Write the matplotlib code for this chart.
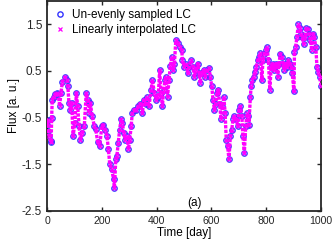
import matplotlib
matplotlib.use("Agg")
import matplotlib.pyplot as plt

# Un-evenly sampled light curve
t_obs = [0, 3, 5, 8, 13, 15, 17, 19, 24, 30, 35, 41, 46, 51, 56, 66, 73, 76, 80, 85,
         90, 95, 102, 107, 112, 117, 122, 129, 136, 143, 149, 153, 158, 165, 173, 178,
         185, 192, 200, 204, 212, 219, 224, 229, 236, 243, 246, 251, 255, 260, 265,
         270, 275, 280, 285, 292, 297, 302, 307, 311, 319, 326, 333, 341, 348, 353,
         360, 365, 372, 380, 384, 392, 399, 406, 411, 416, 421, 426, 431, 435, 440,
         445, 450, 455, 460, 465, 470, 477, 484, 492, 494, 501, 508, 514, 518, 526,
         533, 538, 543, 550, 555, 559, 564, 572, 577, 584, 591, 596, 601, 606, 611,
         616, 620, 625, 630, 635, 640, 645, 650, 654, 659, 664, 669, 674, 679, 683,
         691, 696, 701, 705, 711, 715, 720, 725, 730, 735, 737, 742, 745, 749, 754,
         759, 764, 769, 774, 778, 784, 788, 793, 798, 803, 808, 813, 818, 823, 827,
         832, 837, 842, 847, 851, 857, 861, 866, 871, 876, 881, 886, 891, 895, 901,
         903, 907, 912, 917, 922, 927, 932, 936, 942, 946, 951, 956, 961, 966, 971,
         975, 981, 985, 990, 995, 1000]
f_obs = [-0.65, -0.55, -0.79, -0.90, -1.00, -1.03, -0.50, -0.12, -0.05, 0.00, 0.03, 0.00,
         -0.26, 0.03, 0.27, 0.37, 0.31, 0.17, -0.18, -0.33, -0.18, -0.90, -0.61, 0.03,
         -0.26, -0.69, -0.97, -0.82, -0.69, 0.02, -0.12, -0.40, -0.19, -0.47, -0.69,
         -0.75, -1.03, -1.11, -0.69, -0.65, -0.76, -0.90, -1.18, -1.50, -1.61, -1.82,
         -2.00, -1.39, -1.32, -1.04, -0.76, -0.54, -0.61, -0.83, -0.97, -0.90, -1.18,
         -0.97, -0.69, -0.41, -0.33, -0.33, -0.26, -0.20, -0.41, -0.12, -0.20, -0.05,
         -0.26, 0.10, 0.31, 0.03, -0.12, -0.05, 0.52, 0.03, -0.26, 0.10, 0.31, 0.38,
         -0.05, 0.31, 0.60, 0.80, 0.52, 0.66, 1.16, 1.11, 1.01, 0.94, 0.73, 0.59, 0.66,
         0.45, 0.59, 0.73, 0.59, 0.38, 0.52, 0.66, 0.45, 0.24, 0.45, 0.52, 0.38, 0.52,
         0.56, 0.38, 0.17, -0.12, -0.33, -0.20, 0.03, 0.10, -0.20, -0.54, -0.26, -0.05,
         -0.40, -0.97, -1.11, -1.39, -0.90, -0.76, -0.54, -0.47, -0.54, -0.69, -0.33,
         -0.26, -0.47, -0.90, -1.26, -0.69, -0.41, -0.47, -0.65, -0.05, 0.17, 0.31, 0.38,
         0.48, 0.59, 0.73, 0.80, 0.88, 0.31, 0.73, 0.87, 0.95, 1.01, 0.73, 0.10, 0.59,
         0.66, 0.52, 0.59, 0.66, 0.38, 0.66, 0.87, 0.80, 0.66, 0.52, 0.66, 0.59, 0.73,
         0.66, 0.59, 0.45, 0.06, 0.90, 1.01, 1.22, 1.50, 1.43, 1.30, 1.22, 1.08, 1.22,
         1.43, 1.40, 1.30, 1.16, 0.95, 1.30, 1.23, 1.01, 0.59, 0.48, 0.38, 0.17]

x_ticks = [0, 200, 400, 600, 800, 1000]
y_ticks = [-2.5, -1.5, -0.5, 0.5, 1.5]
legend_labels = ["Un-evenly sampled LC", "Linearly interpolated LC"]

plt.rcParams["font.family"] = ["Liberation Sans", "DejaVu Sans"]
plt.rcParams["axes.unicode_minus"] = False

fig = plt.figure(figsize=(3.32, 2.47), dpi=100)
ax = fig.add_axes([0.1416, 0.146, 0.8254, 0.85])

ax.plot(t_obs, f_obs, linestyle="none", marker="o", markersize=3.8,
        markerfacecolor="none", markeredgecolor="#3333ff", markeredgewidth=1.0,
        label=legend_labels[0], zorder=2)
ax.plot(t_obs, f_obs, linestyle=(0, (1, 0.4)), linewidth=2.4, color="#ff00ff",
        marker="x", markersize=2.8, markeredgewidth=0.9,
        label=legend_labels[1], zorder=3)

ax.set_xlim(0, 1000)
ax.set_ylim(-2.5, 2.0)
ax.set_xticks(x_ticks)
ax.set_yticks(y_ticks)
ax.set_yticklabels([f"{v:g}" for v in y_ticks])
ax.tick_params(direction="in", top=True, right=True, length=3, width=1,
               labelsize=8.5, colors="#262626")
ax.tick_params(axis="x", labelsize=7.6)
for s in ax.spines.values():
    s.set_linewidth(1.3)
    s.set_color("#262626")

ax.set_xlabel("Time [day]", fontsize=8.5, labelpad=1)
ax.set_ylabel("Flux [a. u.]", fontsize=8.5, labelpad=1)

leg = ax.legend(loc="upper left", frameon=False, fontsize=8.5,
                handlelength=0.8, handletextpad=0.6, borderaxespad=0.3,
                labelspacing=0.25, markerscale=1.0)
for h in leg.legend_handles:
    h.set_linestyle("none")

ax.text(540, -2.33, "(a)", ha="center", va="center", fontsize=8.5)

fig.savefig("out.png", dpi=100)
